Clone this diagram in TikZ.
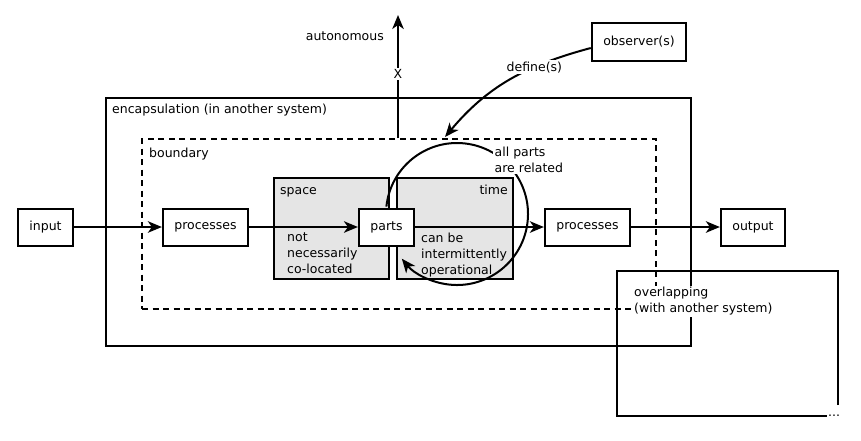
\documentclass[tikz,border=0pt]{standalone}
\usepackage{fontspec}
\setmainfont{DejaVu Sans}
\usepackage{xcolor}
\usepackage{tikz}
\usetikzlibrary{calc,arrows.meta}
\definecolor{ink}{HTML}{000000}
\definecolor{shade}{HTML}{E5E5E5}
\definecolor{paper}{HTML}{FFFFFF}
\newcommand{\lbl}{\fontsize{12.5}{16}\selectfont}
\tikzset{
  frame/.style={draw=ink, line width=2pt},
  bound/.style={draw=ink, line width=2pt, dash pattern=on 6pt off 4.5pt},
  zone/.style={draw=ink, fill=shade, line width=2pt},
  blk/.style={draw=ink, fill=paper, line width=2pt, minimum height=37pt, inner xsep=11.5pt, font=\lbl},
  flow/.style={draw=ink, line width=2pt, -{Stealth[length=14pt,width=11.5pt,inset=4pt]}},
  lab/.style={text=ink, font=\lbl, inner sep=0pt, align=left},
  tag/.style={fill=paper, inner sep=1.5pt, text=ink, font=\lbl, align=left},
}

\begin{document}
\begin{tikzpicture}[x=1pt,y=1pt]
  \useasboundingbox (0,0) rectangle (861,-440);
  % containers
  \node[frame, minimum width=585pt, minimum height=248pt] (encap) at (398.5,-222) {};
  \node[bound, minimum width=514pt, minimum height=170pt] (bnd) at (399,-224) {};
  \node[zone, minimum width=115pt, minimum height=101pt] (space) at (331.5,-228.5) {};
  \node[zone, minimum width=116pt, minimum height=101pt] (time) at (455,-228.5) {};
  \draw[frame] (838,-405) -- (838,-271) -- (617,-271) -- (617,-416) -- (827,-416);
  \node[lab, anchor=base west] (dots) at (828,-416) {...};
  \node[lab, anchor=base west] (encapl) at ($(encap.north west)+(7,-16)$) {encapsulation (in another system)};
  \node[lab, anchor=base west] (bndl) at ($(bnd.north west)+(8,-19)$) {boundary};
  \node[lab, anchor=base west] (spacel) at ($(space.north west)+(7,-17)$) {space};
  \node[lab, anchor=base east] (timel) at ($(time.north east)+(-6,-17)$) {time};
  \node[lab, anchor=north west] (spacet) at (287,-232.5) {not\\necessarily\\co-located};
  \node[lab, anchor=north west] (timet) at (421,-232.5) {can be\\intermittently\\operational};
  % all parts are related
  \coordinate (rel) at (457,-214);
  \draw[flow] (rel) ++(174:71) arc[start angle=174, end angle=-141, radius=71];
  \node[tag, anchor=north west] (rell) at (493,-145) {all parts\\are related};
  \node[tag, anchor=north west] (overl) at (632.5,-285.5) {overlapping\\(with another system)};
  % blocks
  \node[blk] (in) at (45.5,-227) {input};
  \node[blk] (procL) at (205.5,-227) {processes};
  \node[blk] (parts) at (386.5,-227) {parts};
  \node[blk] (procR) at (587.5,-227) {processes};
  \node[blk] (out) at (753,-227) {output};
  \node[blk, minimum height=38pt] (obs) at (639,-42) {observer(s)};
  \draw[flow] (in) -- (procL);
  \draw[flow] (procL) -- (parts);
  \draw[flow] (parts) -- (procR);
  \draw[flow] (procR) -- (out);
  % autonomous
  \coordinate (up) at (398,-15);
  \node[lab, anchor=east] (auton) at (384,-36) {autonomous};
  \draw[flow] (bnd.north -| up) -- node[tag, pos=0.52] {X} (up);
  \coordinate (hit) at (445,-137);
  \draw[flow] ([yshift=-6pt]obs.west) to[out=195, in=50] node[tag, pos=0.33] {define(s)} (hit);
\end{tikzpicture}
\end{document}
